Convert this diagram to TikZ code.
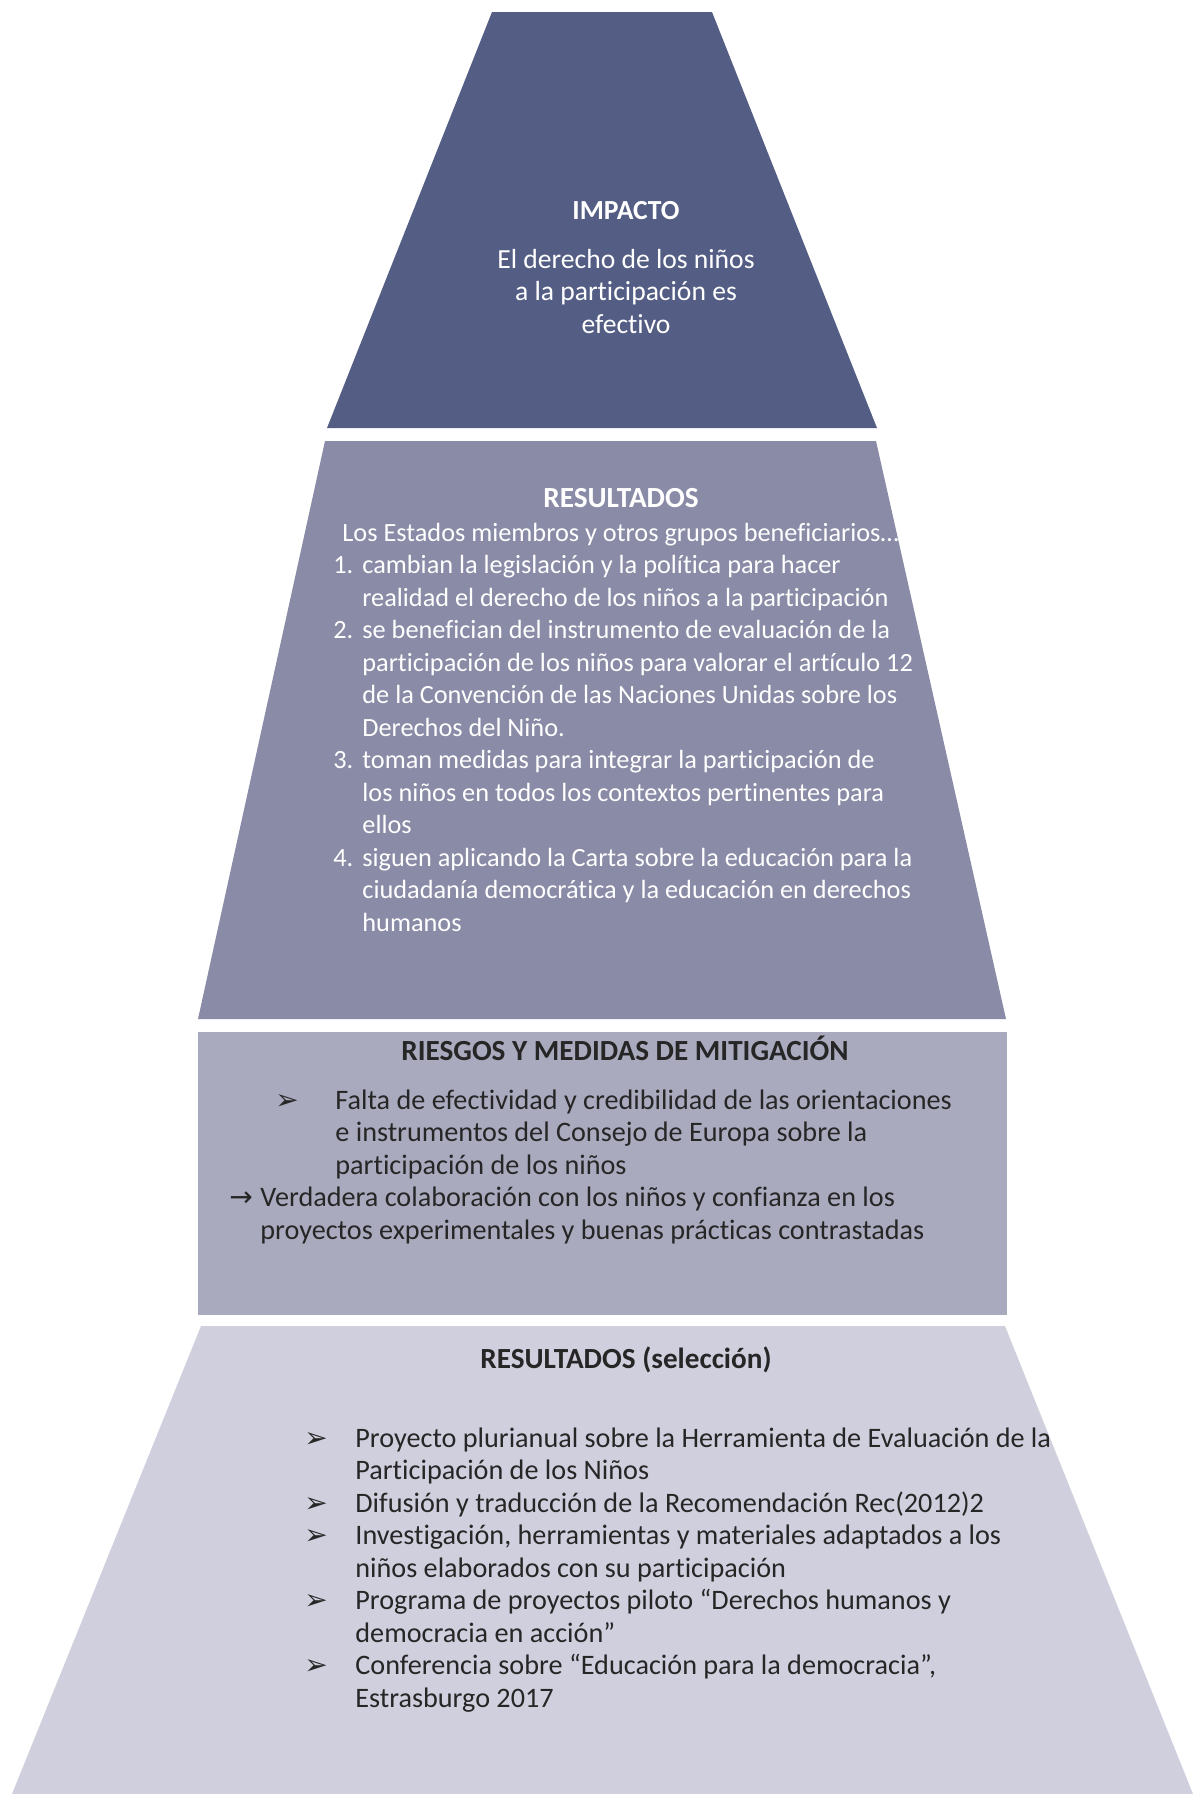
\documentclass[tikz,border=0pt]{standalone}
\usepackage{fontspec}
\setmainfont{Carlito}[Ligatures=NoCommon]
\newfontfamily\dingfont{DejaVu Sans}
\usepackage{xcolor}

\definecolor{impactcol}{HTML}{545E84}
\definecolor{rescol}{HTML}{8A8BA6}
\definecolor{riskcol}{HTML}{AAAABF}
\definecolor{selcol}{HTML}{D0CFDE}
\definecolor{inkcol}{HTML}{262626}

\begin{document}
\begin{tikzpicture}[x=0.5pt,y=-0.5pt,
	txt/.style={inner sep=0pt,font=\fontsize{14.1}{16.25}\selectfont},
	small/.style={font=\fontsize{13.15}{16.25}\selectfont},
	head/.style={txt,font=\fontsize{14.6}{16.25}\selectfont\bfseries,anchor=base},
	lines/.style={txt,align=left,anchor=base west},
	pointer/.style={txt,anchor=base west,font=\fontsize{14}{16.25}\dingfont}
	]
	\useasboundingbox (0,0) rectangle (1198,1794);
	%
	\fill[impactcol] (492,12) -- (712,12) -- (877,428) -- (327,428) -- cycle;
	\fill[rescol] (325,441) -- (876,441) -- (1006,1019) -- (198,1019) -- cycle;
	\fill[riskcol] (198,1032) rectangle (1007,1315);
	\fill[selcol] (201,1326) -- (1005,1326) -- (1193,1794) -- (12,1794) -- cycle;
	%
	% multi-line nodes sit on the baseline of their last line
	\node[head,text=white,font=\fontsize{13.8}{16.25}\selectfont\bfseries] (impacto) at (626,219) {IMPACTO};
	\node[txt,text=white,align=center,anchor=base,font=\fontsize{13.8}{16.25}\selectfont] (derecho) at (626,333)
		{El derecho de los niños\\a la participación es\\efectivo};
	%
	\node[head,text=white] (resultados) at (621,507) {RESULTADOS};
	\node[lines,small,text=white] (estados) at (342,541) {Los Estados miembros y otros grupos beneficiarios…};
	\foreach \n/\y/\z/\txt in {
		1/573.5/606/{cambian la legislación y la política para hacer\\realidad el derecho de los niños a la participación},
		2/638.5/736/{se benefician del instrumento de evaluación de la\\participación de los niños para valorar el artículo 12\\de la Convención de las Naciones Unidas sobre los\\Derechos del Niño.},
		3/768.5/833.5/{toman medidas para integrar la participación de\\los niños en todos los contextos pertinentes para\\ellos},
		4/866/931/{siguen aplicando la Carta sobre la educación para la\\ciudadanía democrática y la educación en derechos\\humanos}}{
		\node[lines,small,text=white] (num\n) at (333,\y) {\n.};
		\node[lines,small,text=white] (res\n) at (362,\z) {\txt};
	}
	%
	\node[head,text=inkcol] (riesgos) at (625,1060) {RIESGOS Y MEDIDAS DE MITIGACIÓN};
	\node[pointer,text=inkcol] (punta0) at (275,1109) {➢};
	\node[lines,text=inkcol] (falta) at (335,1174)
		{Falta de efectividad y credibilidad de las orientaciones\\e instrumentos del Consejo de Europa sobre la\\participación de los niños};
	\node[pointer,text=inkcol] (flecha) at (229,1206.5) {→};
	\node[lines,text=inkcol] (verdadera) at (260,1239)
		{Verdadera colaboración con los niños y confianza en los\\proyectos experimentales y buenas prácticas contrastadas};
	%
	\node[head,text=inkcol] (seleccion) at (626,1368) {RESULTADOS (selección)};
	\foreach \n/\y/\z/\txt in {
		1/1447/1479.5/{Proyecto plurianual sobre la Herramienta de Evaluación de la\\Participación de los Niños},
		2/1512/1512/{Difusión y traducción de la Recomendación Rec(2012)2},
		3/1544.5/1577/{Investigación, herramientas y materiales adaptados a los\\niños elaborados con su participación},
		4/1609.5/1642/{Programa de proyectos piloto “Derechos humanos y\\democracia en acción”},
		5/1674.5/1707/{Conferencia sobre “Educación para la democracia”,\\Estrasburgo 2017}}{
		\node[pointer,text=inkcol] (punta\n) at (304,\y) {➢};
		\node[lines,text=inkcol] (sel\n) at (355,\z) {\txt};
	}
\end{tikzpicture}
\end{document}
